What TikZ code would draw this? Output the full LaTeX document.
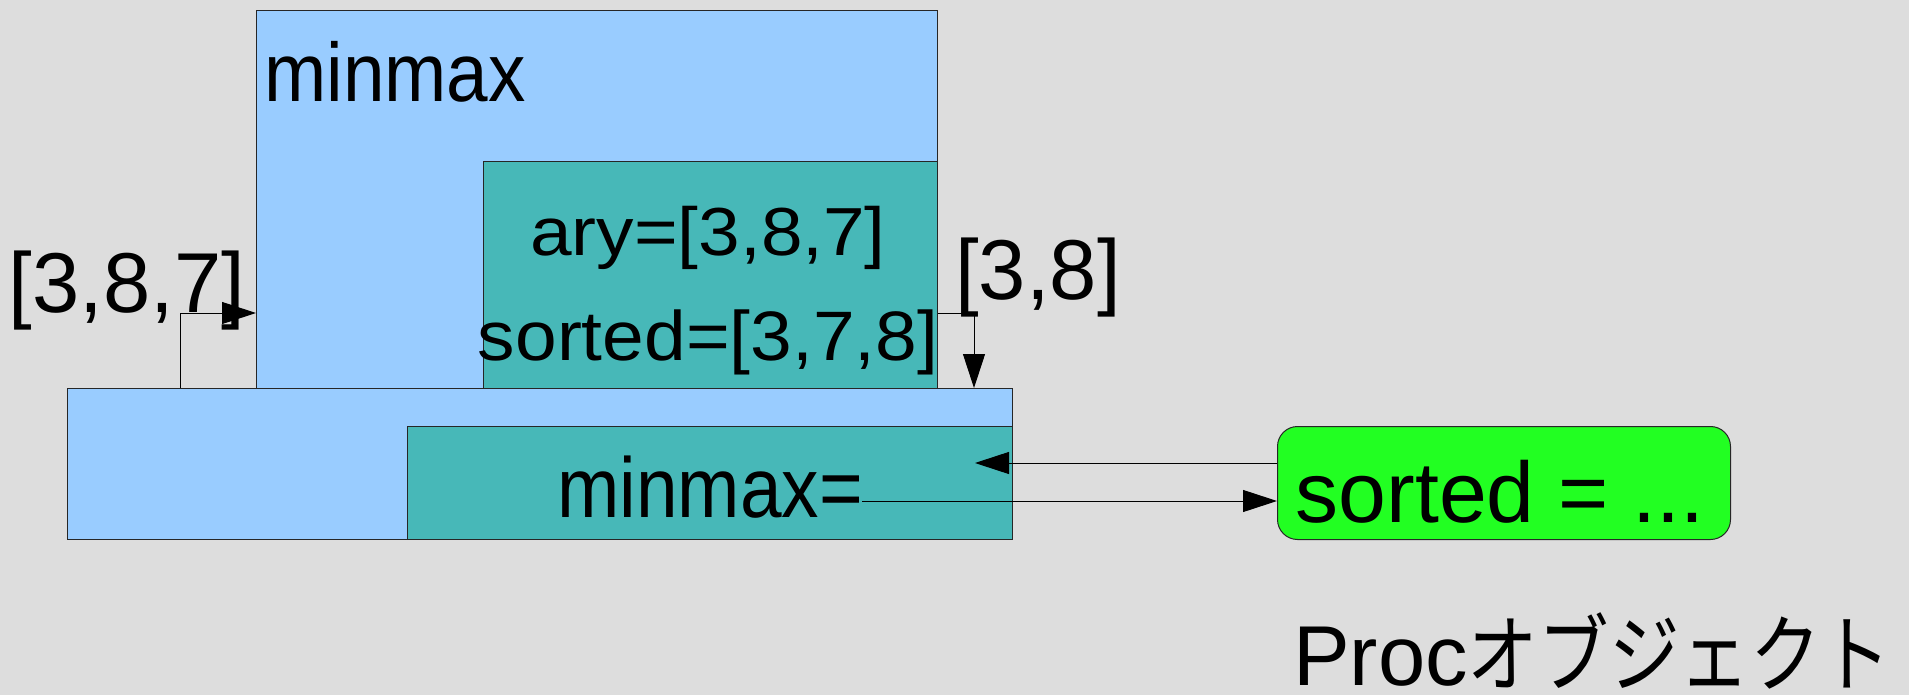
\documentclass[tikz,border=0pt]{standalone}
\usepackage{fontspec}
\setmainfont{Liberation Sans}
\newfontfamily\jpfont{Noto Sans CJK JP}
\usepackage{graphicx}
\usetikzlibrary{arrows.meta,positioning,calc}
\definecolor{canvasgray}{HTML}{DDDDDD}
\definecolor{scopeblue}{HTML}{99CCFF}
\definecolor{scopeteal}{HTML}{47B8B8}
\definecolor{procgreen}{HTML}{22FF22}
\newcommand{\pxsize}[1]{\fontsize{#1}{#1}\selectfont}
\newcommand{\squeeze}[2]{\scalebox{#1}[1]{#2}}

\begin{document}
\begin{tikzpicture}[
    x=1pt, y=-1pt,
    frame/.style={rectangle, draw=black!85, line width=1pt, anchor=north west, inner sep=0},
    outer/.style={frame, fill=scopeblue},
    inner/.style={frame, fill=scopeteal},
    procbox/.style={frame, fill=procgreen, rounded corners=20pt},
    txt/.style={inner sep=0, anchor=base},
    arr/.style={-{Triangle[length=34pt, width=22pt]}, line width=1pt},
]
    % Canvas
    \fill[canvasgray] (0,0) rectangle (1909,695);
    \useasboundingbox (0,0) rectangle (1909,695);

    % Method scope
    \node[outer, minimum width=681, minimum height=378] (def) at (256,10) {};
    \node[inner, minimum width=454, minimum height=227] (body) at (483,161) {};

    % Caller scope
    \node[outer, minimum width=945, minimum height=151] (caller) at (67,388) {};
    \node[inner, minimum width=605, minimum height=113] (call) at (407,426) {};

    % Proc object
    \node[procbox, minimum width=453, minimum height=113] (procobj) at (1277,426) {};

    % Texts
    \node[txt, anchor=base west] (defname) at (264,102) {\pxsize{83}\squeeze{0.9}{minmax}};
    \node[txt] (ary) at (708,255) {\pxsize{68}\squeeze{1.1}{ary=[3,8,7]}};
    \node[txt] (sorted) at (708,360) {\pxsize{70}\squeeze{1.07}{sorted=[3,7,8]}};
    \node[txt] (argval) at (127,312) {\pxsize{85}[3,8,7]};
    \node[txt] (retval) at (1038,299) {\pxsize{85}[3,8]};
    \node[txt] (callexpr) at (710,517) {\pxsize{85}\squeeze{0.88}{minmax=}};
    \node[txt] (procexpr) at (1500,522) {\pxsize{86}sorted = ...};
    \node[txt, anchor=base west] (proclabel) at (1293,685)
        {\pxsize{85}Proc\squeeze{0.83}{\jpfont オブジェクト}};

    % Connector ends
    \coordinate (argin) at (180,388);
    \coordinate (retout) at (974,388);
    \coordinate (callin) at (975,463);
    \coordinate (callout) at (862,501);

    % Arrows
    \draw[arr] (argin) |- ([yshift=76pt]def.south west);
    \draw[arr] ([yshift=76pt]body.south east) -| (retout);
    \draw[arr] (procobj.west |- callin) -- (callin);
    \draw[arr] (callout) -- (callout -| procobj.west);
\end{tikzpicture}
\end{document}
